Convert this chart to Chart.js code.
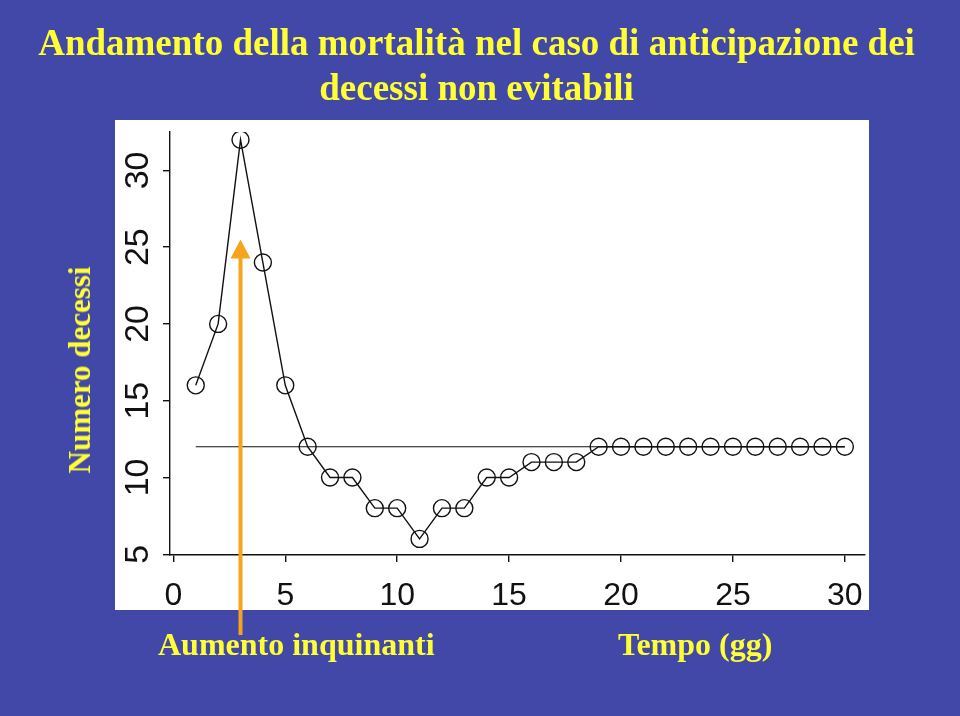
<!DOCTYPE html>
<html>
<head>
<meta charset="utf-8">
<script src="https://cdn.jsdelivr.net/npm/chart.js@4/dist/chart.umd.min.js"></script>
<style>
  html, body { margin:0; padding:0; }
  body { width:960px; height:716px; background:#4148a8; position:relative; overflow:hidden; }
  #frame { position:absolute; left:0; top:0; width:958px; height:713px; border-top:1px solid #c9cbe0; border-left:2px solid #c9cbe0; border-bottom:1px solid #c9cbe0; box-sizing:content-box; }
  #wrap { position:absolute; left:0; top:0; width:960px; height:716px; }
  .txt { position:absolute; color:#ffff33; font-family:"Liberation Serif","Times New Roman",serif; font-weight:bold; white-space:nowrap; }
  #title { left:0; width:953px; top:20px; text-align:center; font-size:37px; line-height:45px; }
  #lab1 { left:158px; top:624px; font-size:32px; line-height:40px; }
  #lab2 { left:618px; top:624px; font-size:32px; line-height:40px; }
  #ylab { left:80px; top:370px; font-size:31px; line-height:36px; transform:translate(-50%,-50%) rotate(-90deg); }
</style>
</head>
<body>
<div id="wrap"><canvas id="c" width="960" height="716"></canvas></div>
<div class="txt" id="title">Andamento della mortalità nel caso di anticipazione dei<br>decessi non evitabili</div>
<div class="txt" id="lab1">Aumento inquinanti</div>
<div class="txt" id="lab2">Tempo (gg)</div>
<div class="txt" id="ylab">Numero decessi</div>
<script>
// ---- data ----
const days = [1,2,3,4,5,6,7,8,9,10,11,12,13,14,15,16,17,18,19,20,21,22,23,24,25,26,27,28,29,30];
const deaths = [16,20,32,24,16,12,10,10,8,8,6,8,8,10,10,11,11,11,12,12,12,12,12,12,12,12,12,12,12,12];
const baselineDays = [1,30];
const baselineValue = [12,12];
const xTicks = [0,5,10,15,20,25,30];
const yTicks = [5,10,15,20,25,30];
const arrowDay = 3;
const arrowTipValue = 25.5;

const whiteBox = {
  id:'whiteBox',
  beforeDraw(chart){
    const ctx = chart.ctx;
    ctx.save();
    ctx.fillStyle = '#ffffff';
    ctx.fillRect(115,120,754,490);
    ctx.restore();
  }
};
const arrow = {
  id:'arrow',
  afterDraw(chart){
    const ctx = chart.ctx;
    const x = chart.scales.x.getPixelForValue(arrowDay);
    const tip = chart.scales.y.getPixelForValue(arrowTipValue);
    const bottom = 635;
    ctx.save();
    ctx.strokeStyle = '#f5a51c';
    ctx.fillStyle = '#f5a51c';
    ctx.lineWidth = 4;
    ctx.beginPath();
    ctx.moveTo(x, bottom);
    ctx.lineTo(x, tip + 16);
    ctx.stroke();
    ctx.beginPath();
    ctx.moveTo(x, tip);
    ctx.lineTo(x - 10, tip + 19);
    ctx.lineTo(x + 10, tip + 19);
    ctx.closePath();
    ctx.fill();
    ctx.restore();
  }
};

new Chart(document.getElementById('c'), {
  type:'line',
  data:{
    datasets:[
      {
        data: days.map((d,i)=>({x:d, y:deaths[i]})),
        borderColor:'#111',
        borderWidth:1.4,
        pointRadius:8.5,
        pointBorderWidth:1.4,
        pointBorderColor:'#111',
        pointBackgroundColor:'rgba(0,0,0,0)',
        tension:0,
        order:1
      },
      {
        data: baselineDays.map((d,i)=>({x:d, y:baselineValue[i]})),
        borderColor:'#111',
        borderWidth:1.2,
        pointRadius:0,
        tension:0,
        order:2
      }
    ]
  },
  options:{
    responsive:false,
    animation:false,
    layout:{ padding:{ top:132, right:95, bottom:0, left:0 } },
    plugins:{ legend:{display:false}, tooltip:{enabled:false}, title:{display:false} },
    scales:{
      x:{
        type:'linear',
        min:-0.15, max:30.9,
        afterBuildTicks(s){ s.ticks = xTicks.map(v=>({value:v})); },
        afterFit(s){ s.height = 161; },
        grid:{ drawOnChartArea:false, drawTicks:true, tickLength:7, tickColor:'#111', lineWidth:1.4 },
        border:{ display:true, color:'#111', width:1.4 },
        ticks:{ autoSkip:false, maxRotation:0, minRotation:0, padding:15, color:'#111', font:{ family:'"Liberation Sans", Arial, sans-serif', size:32 } }
      },
      y:{
        type:'linear',
        min:4.95, max:32.5,
        afterBuildTicks(s){ s.ticks = yTicks.map(v=>({value:v})); },
        afterFit(s){ s.width = 170; },
        grid:{ drawOnChartArea:false, drawTicks:true, tickLength:7, tickColor:'#111', lineWidth:1.4 },
        border:{ display:true, color:'#111', width:1.4 },
        ticks:{ autoSkip:false, minRotation:90, maxRotation:90, crossAlign:'center', padding:5, color:'#111', font:{ family:'"Liberation Sans", Arial, sans-serif', size:34 } }
      }
    }
  },
  plugins:[whiteBox, arrow]
});
</script>
</body>
</html>
